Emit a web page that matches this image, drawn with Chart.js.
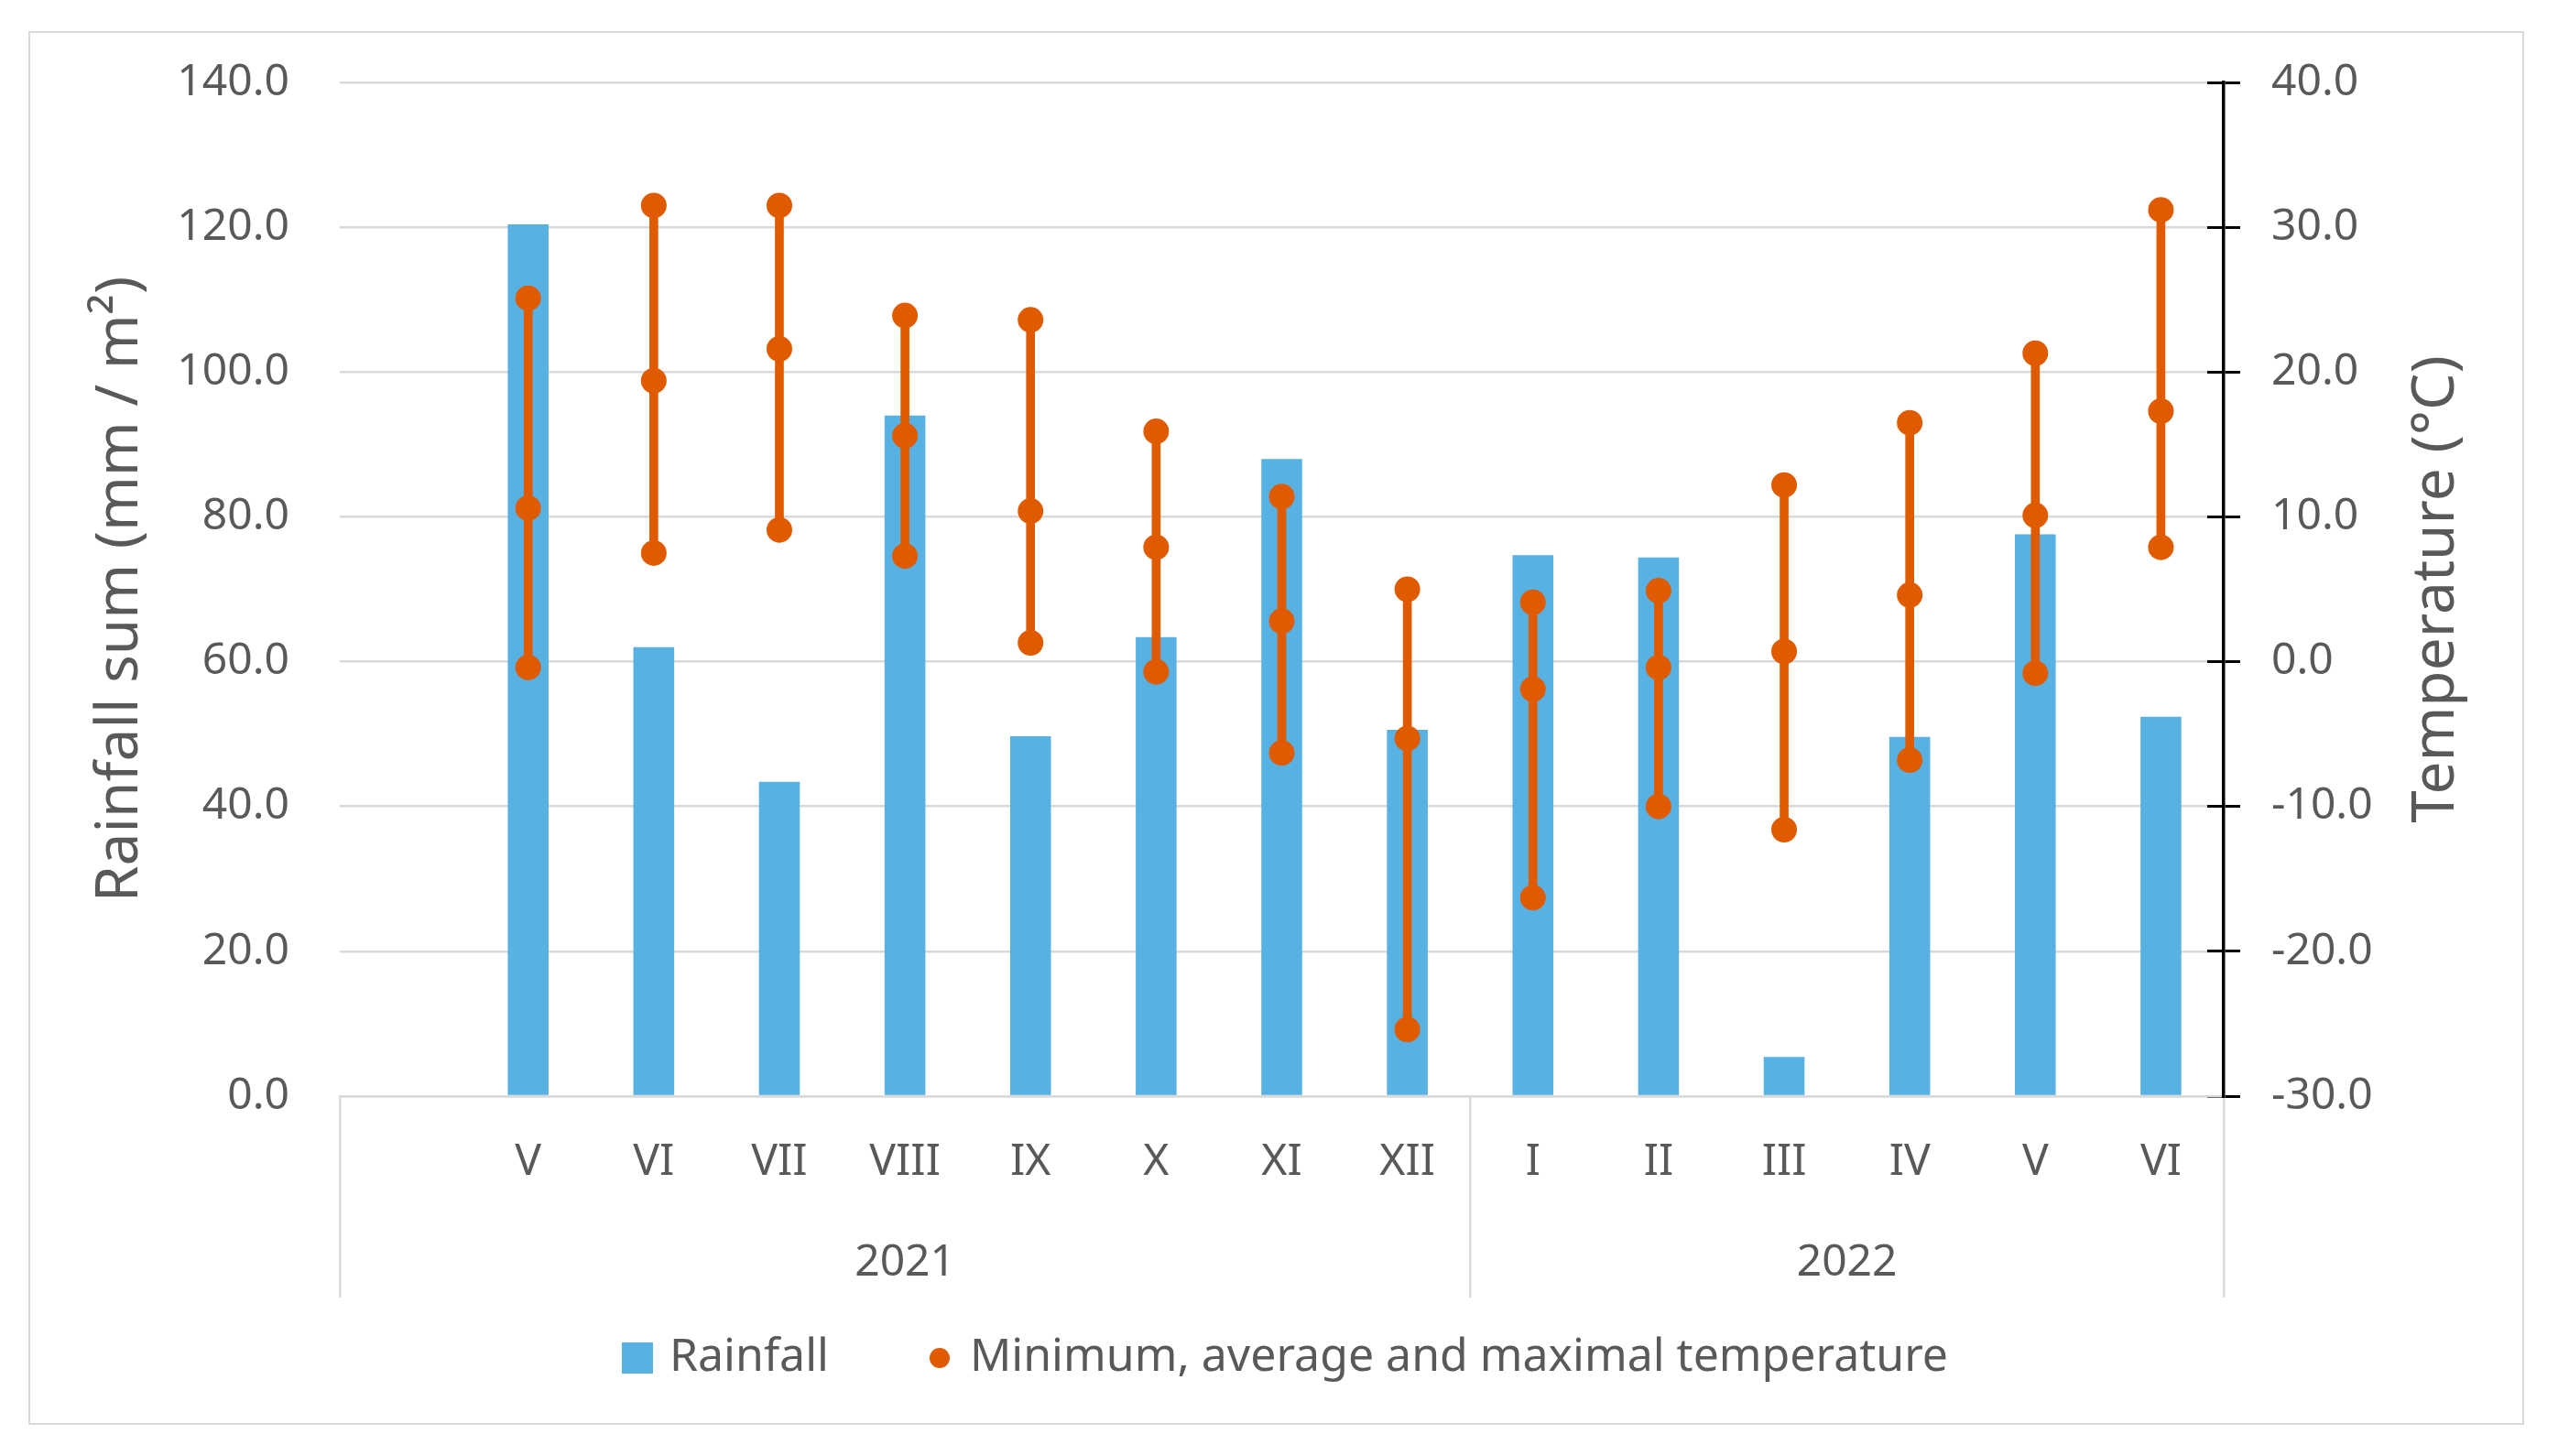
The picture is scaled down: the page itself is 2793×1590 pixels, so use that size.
<!DOCTYPE html>
<html><head><meta charset="utf-8">
<script src="https://cdn.jsdelivr.net/npm/chart.js@4.4.1/dist/chart.umd.min.js"></script>
<style>
html,body{margin:0;padding:0;background:#fff;}
#frame{position:absolute;left:31px;top:34px;width:2725px;height:1522px;border:2px solid #d9d9d9;box-sizing:border-box;}
#c{position:absolute;left:0;top:0;width:2793px;height:1590px;}
</style></head><body>
<div id="frame"></div>
<canvas id="c" width="2793" height="1590"></canvas>
<script>
// ---- data ----
const months = ['', 'V','VI','VII','VIII','IX','X','XI','XII','I','II','III','IV','V','VI'];
const years = ['2021', '2022'];
const yearSpans = [9, 6];
const rainfall = [null, 120.4, 62.0, 43.4, 94.0, 49.7, 63.4, 88.0, 50.6, 74.7, 74.4, 5.4, 49.6, 77.6, 52.4];
const tempMax  = [null, 25.1, 31.5, 31.5, 23.9, 23.6, 15.9, 11.4, 5.0, 4.1, 4.9, 12.2, 16.5, 21.3, 31.2];
const tempAvg  = [null, 10.6, 19.4, 21.6, 15.6, 10.4, 7.9, 2.8, -5.3, -1.9, -0.4, 0.7, 4.6, 10.1, 17.3];
const tempMin  = [null, -0.4, 7.5, 9.1, 7.3, 1.3, -0.7, -6.3, -25.4, -16.3, -10.0, -11.6, -6.8, -0.8, 7.9];
const rainAxis = [0, 140, 20];
const tempAxis = [-30, 40, 10];
const legendTexts = ['Rainfall', 'Minimum, average and maximal temperature'];
const titles = ['Rainfall sum (mm / m\u00B2)', 'Temperature (\u00B0C)'];

// ---- styles ----
const BLUE = '#58B1E3';
const ORANGE = '#E05B00';
const TEXT = '#595959';
const GRID = '#d9d9d9';
const FONT = "'Noto Sans', sans-serif";

// year axis: half-category slots (offset-free) so group centres land on slots
const yearSlots = new Array(months.length * 2 + 1).fill('');
const boundaryIdx = [0];
{ let s = 0; yearSpans.forEach((n, k) => { yearSlots[s * 2 + n] = years[k]; s += n; boundaryIdx.push(s); }); }

const tempRange = tempMin.map((v, i) => (v === null ? null : [v, tempMax[i]]));

// legend markers (transparent margin places the marker just before its text)
function mkCanvas(w, h, draw) { const c = document.createElement('canvas'); c.width = w; c.height = h; draw(c.getContext('2d')); return c; }
const sq = mkCanvas(104, 34, g => { g.fillStyle = BLUE; g.fillRect(70, 0, 34, 34); });
const dot = mkCanvas(104, 24, g => { g.fillStyle = ORANGE; g.beginPath(); g.arc(89, 12, 11, 0, Math.PI * 2); g.fill(); });

const rightTitle = {
  id: 'rightTitle',
  afterDraw(chart) {
    const s = chart.scales.y2; const ctx = chart.ctx;
    ctx.save();
    ctx.translate(s.right - 82, (s.top + s.bottom) / 2);
    ctx.rotate(-Math.PI / 2);
    ctx.font = "64px " + FONT;
    ctx.fillStyle = TEXT; ctx.textAlign = 'center'; ctx.textBaseline = 'middle';
    ctx.fillText(titles[1], 0, 0);
    ctx.restore();
  }
};

new Chart(document.getElementById('c'), {
  type: 'bar',
  data: {
    labels: months,
    datasets: [
      { type: 'line', label: legendTexts[1], data: tempMax, yAxisID: 'y2', showLine: false, pointRadius: 13, pointBorderWidth: 2, pointBackgroundColor: ORANGE, pointBorderColor: ORANGE, order: 1 },
      { type: 'line', label: 'avg', data: tempAvg, yAxisID: 'y2', showLine: false, pointRadius: 13, pointBorderWidth: 2, pointBackgroundColor: ORANGE, pointBorderColor: ORANGE, order: 1 },
      { type: 'line', label: 'min', data: tempMin, yAxisID: 'y2', showLine: false, pointRadius: 13, pointBorderWidth: 2, pointBackgroundColor: ORANGE, pointBorderColor: ORANGE, order: 1 },
      { type: 'bar', label: 'range', data: tempRange, yAxisID: 'y2', backgroundColor: ORANGE, barThickness: 9, grouped: false, order: 2 },
      { type: 'bar', label: legendTexts[0], data: rainfall, yAxisID: 'y', backgroundColor: BLUE, barPercentage: 0.325, categoryPercentage: 1.0, grouped: false, order: 3 }
    ]
  },
  options: {
    responsive: false,
    devicePixelRatio: 1,
    animation: false,
    events: [],
    layout: { padding: { top: 90, left: 0, right: 50, bottom: 72 } },
    plugins: {
      tooltip: { enabled: false },
      legend: {
        position: 'bottom',
        align: 'center',
        labels: {
          usePointStyle: true,
          pointStyleWidth: 90,
          boxWidth: 90, boxHeight: 34,
          padding: 39,
          color: TEXT,
          font: { family: FONT, size: 50 },
          generateLabels: () => [
            { text: legendTexts[0], pointStyle: sq, fillStyle: BLUE, strokeStyle: BLUE, lineWidth: 0, hidden: false, datasetIndex: 4, fontColor: TEXT },
            { text: legendTexts[1], pointStyle: dot, fillStyle: ORANGE, strokeStyle: ORANGE, lineWidth: 0, hidden: false, datasetIndex: 0, fontColor: TEXT }
          ]
        }
      }
    },
    scales: {
      x: {
        type: 'category',
        position: 'bottom',
        weight: 0,
        offset: true,
        grid: {
          offset: true, drawOnChartArea: false, drawTicks: true, tickLength: 220, lineWidth: 2.5,
          color: ctx => (ctx.index === undefined || boundaryIdx.includes(ctx.index)) ? GRID : 'rgba(0,0,0,0)'
        },
        border: { display: true, color: GRID, width: 2.5 },
        ticks: { autoSkip: false, maxRotation: 0, minRotation: 0, padding: -176, color: TEXT, font: { family: FONT, size: 48 } },
        afterFit: s => { s.height = 100; }
      },
      x2: {
        type: 'category',
        position: 'bottom',
        weight: 1,
        labels: yearSlots,
        offset: false,
        grid: { display: false, drawTicks: false },
        border: { display: false },
        ticks: { autoSkip: false, maxRotation: 0, minRotation: 0, padding: 54, color: TEXT, font: { family: FONT, size: 48 } },
        afterFit: s => { s.height = 122; }
      },
      y: {
        type: 'linear',
        position: 'left',
        min: rainAxis[0], max: rainAxis[1],
        grid: { color: GRID, lineWidth: 2.5, drawTicks: false },
        border: { display: false },
        ticks: { stepSize: rainAxis[2], padding: 55, color: TEXT, font: { family: FONT, size: 48 }, callback: v => v.toFixed(1) },
        title: { display: true, text: titles[0], color: TEXT, font: { family: FONT, size: 64 }, padding: { top: 93, bottom: 0 } },
        afterFit: s => { s.width = 371; }
      },
      y3: {
        type: 'linear',
        position: 'right',
        weight: 0,
        min: tempAxis[0], max: tempAxis[1],
        grid: { drawOnChartArea: false, drawTicks: true, tickLength: -18, color: '#000', lineWidth: 3 },
        border: { display: false },
        ticks: { stepSize: tempAxis[2], display: false },
        afterFit: s => { s.width = 0; }
      },
      y2: {
        type: 'linear',
        position: 'right',
        weight: 1,
        min: tempAxis[0], max: tempAxis[1],
        grid: { drawOnChartArea: false, drawTicks: true, tickLength: 18, color: '#000', lineWidth: 3 },
        border: { display: true, color: '#000', width: 3.5 },
        ticks: { stepSize: tempAxis[2], padding: 34, color: TEXT, font: { family: FONT, size: 48 }, callback: v => v.toFixed(1) },
        afterFit: s => { s.width = 315; }
      }
    }
  },
  plugins: [rightTitle]
});
</script>
</body></html>
